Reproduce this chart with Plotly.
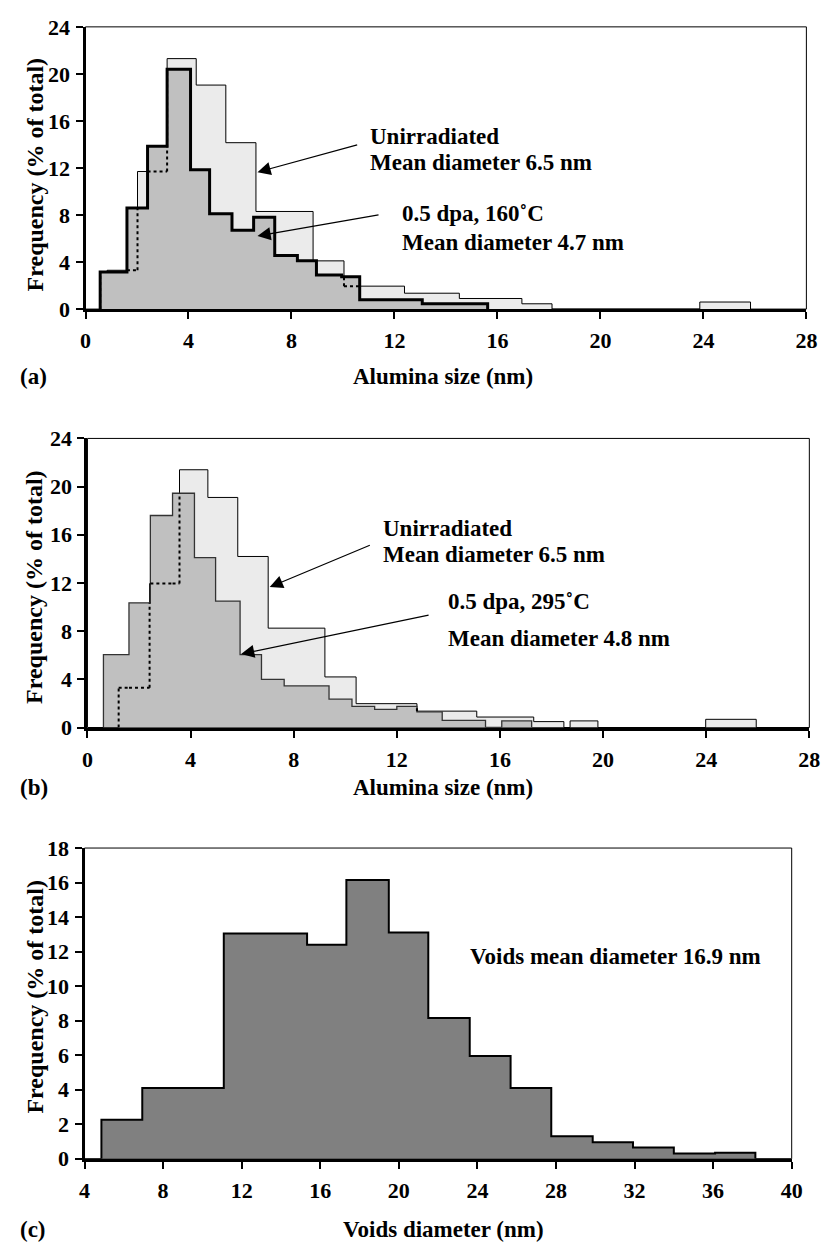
import plotly.graph_objects as go

# page is rendered with the browser's default 8px body margin
OFF = 8
FW, FH = 828, 1246

# ---------------- data ----------------
# Panel (a): alumina size distributions
unirr_a_edges = [0.57, 0.84, 2.02, 3.17, 4.30, 5.45, 6.62, 8.84, 10.04, 12.39, 14.52, 16.95, 18.12, 23.86, 25.83]
unirr_a_freq = [3.15, 3.3, 11.7, 21.3, 19.05, 14.15, 8.3, 4.1, 1.95, 1.35, 0.9, 0.45, 0.0, 0.6]
irr160_edges = [0.57, 1.61, 2.41, 3.17, 4.08, 4.82, 5.69, 6.53, 7.35, 8.23, 8.97, 9.95, 10.65, 13.08, 15.62]
irr160_freq = [3.15, 8.6, 13.85, 20.4, 11.85, 8.1, 6.7, 7.8, 4.55, 4.1, 2.9, 2.75, 0.8, 0.45]

# Panel (b)
unirr_b_edges = [1.21, 2.41, 3.57, 4.67, 5.83, 7.01, 9.21, 10.42, 12.78, 15.10, 17.31, 18.48, 18.72, 19.80, 23.98, 25.94]
unirr_b_freq = [3.3, 11.95, 21.4, 19.1, 14.2, 8.25, 4.2, 1.98, 1.36, 0.87, 0.49, 0.0, 0.55, 0.0, 0.68]
irr295_edges = [0.62, 1.61, 2.44, 3.30, 4.15, 4.97, 5.92, 6.75, 7.63, 9.37, 10.26, 11.14, 12.0, 12.78, 13.76, 15.44, 16.07, 17.23]
irr295_freq = [6.05, 10.35, 17.6, 19.45, 14.1, 10.5, 6.05, 4.0, 3.45, 2.35, 1.75, 1.5, 1.75, 1.3, 0.6, 0.0, 0.55]

# Panel (c): voids
void_edges = [4.86, 6.94, 11.09, 15.33, 17.33, 19.49, 21.5, 23.61, 25.69, 27.76, 29.87, 31.92, 34.0, 36.1, 38.15]
void_freq = [2.25, 4.1, 13.05, 12.4, 16.15, 13.1, 8.15, 5.95, 4.1, 1.3, 0.95, 0.65, 0.3, 0.35]

alumina_ticks = [0, 4, 8, 12, 16, 20, 24, 28]
alumina_yticks = [0, 4, 8, 12, 16, 20, 24]
void_ticks = [4, 8, 12, 16, 20, 24, 28, 32, 36, 40]
void_yticks = [0, 2, 4, 6, 8, 10, 12, 14, 16, 18]

FONT = "Liberation Serif"
BLACK = "#000000"
LIGHT = "#ebebeb"
MID = "#c0c0c0"
DARK = "#808080"


def px_x(px):
    return (px - OFF) / FW


def px_y(py):
    return 1 - (py - OFF) / FH


def step_xy(edges, freq):
    xs = [edges[0]] + list(edges)
    ys = [0] + list(freq) + [0]
    return xs, ys


def step_val(edges, freq, x):
    for i in range(len(freq)):
        if edges[i] < x < edges[i + 1]:
            return freq[i]
    return 0.0


def hidden_outline(ue, uf, de, df):
    """Parts of the histogram outline (ue, uf) that lie under the histogram (de, df)."""
    xs, ys = [], []
    bps = sorted(set(ue) | set(de))
    for i in range(len(uf)):
        a, b, h = ue[i], ue[i + 1], uf[i]
        pts = [a] + [p for p in bps if a < p < b] + [b]
        for p, q in zip(pts[:-1], pts[1:]):
            if step_val(de, df, (p + q) / 2) > h + 1e-9:
                xs += [p, q, None]
                ys += [h, h, None]
    ext = [0.0] + list(uf) + [0.0]
    for i, e in enumerate(ue):
        lo, hi = sorted((ext[i], ext[i + 1]))
        cover = max(step_val(de, df, e - 1e-6), step_val(de, df, e + 1e-6))
        top = min(hi, cover)
        if top > lo + 1e-9:
            xs += [e, e, None]
            ys += [lo, top, None]
    return xs, ys


fig = go.Figure()


def add_hist(edges, freq, xa, ya, fill, lw, lc):
    xs, ys = step_xy(edges, freq)
    fig.add_trace(go.Scatter(
        x=xs, y=ys, mode="lines", line=dict(shape="hv", width=lw, color=lc),
        fill="tozeroy", fillcolor=fill,
        xaxis=xa, yaxis=ya, showlegend=False, hoverinfo="skip"))


def add_hidden(ue, uf, de, df, xa, ya):
    xs, ys = hidden_outline(ue, uf, de, df)
    fig.add_trace(go.Scatter(
        x=xs, y=ys, mode="lines", line=dict(width=2, color=BLACK, dash="dot"),
        xaxis=xa, yaxis=ya, showlegend=False, hoverinfo="skip", connectgaps=False))


# panel a
add_hist(unirr_a_edges, unirr_a_freq, "x", "y", LIGHT, 1, BLACK)
add_hist(irr160_edges, irr160_freq, "x", "y", MID, 3, BLACK)
add_hidden(unirr_a_edges, unirr_a_freq, irr160_edges, irr160_freq, "x", "y")
# panel b
add_hist(unirr_b_edges, unirr_b_freq, "x2", "y2", LIGHT, 1, BLACK)
add_hist(irr295_edges, irr295_freq, "x2", "y2", MID, 1.3, "#333333")
add_hidden(unirr_b_edges, unirr_b_freq, irr295_edges, irr295_freq, "x2", "y2")
# panel c
add_hist(void_edges, void_freq, "x3", "y3", DARK, 2, BLACK)

tickfont = dict(family=FONT, size=22, color=BLACK, weight="bold")
axcommon = dict(showgrid=False, zeroline=False, showline=True, linewidth=3, linecolor=BLACK,
                ticks="outside", ticklen=7, tickwidth=2, tickcolor=BLACK, tickfont=tickfont)

panels = [
    ("xaxis", "yaxis", 81, 817, 15, 303, [0, 28], [0, 24], alumina_ticks, alumina_yticks),
    ("xaxis2", "yaxis2", 83, 820, 435, 730, [0, 28], [0, 24], alumina_ticks, alumina_yticks),
    ("xaxis3", "yaxis3", 80, 802, 853, 1170, [4, 40], [0, 18], void_ticks, void_yticks),
]
layout = {}
shapes = []
for i, (xk, yk, x0, x1, yt, yb, xr, yr, xt, yt_) in enumerate(panels):
    suffix = "" if i == 0 else str(i + 1)
    layout[xk] = dict(axcommon, domain=[px_x(x0), px_x(x1)], range=xr, tickvals=xt,
                      anchor="y" + suffix, ticklabelstandoff=3)
    layout[yk] = dict(axcommon, domain=[px_y(yb), px_y(yt)], range=yr, tickvals=yt_,
                      anchor="x" + suffix, ticklabelstandoff=1)
    shapes.append(dict(type="rect", xref="paper", yref="paper",
                       x0=px_x(x0), x1=px_x(x1), y0=px_y(yb), y1=px_y(yt),
                       line=dict(color=BLACK, width=1), layer="below"))

ann = []


def text(xref, yref, x, y, s, xanchor="left", angle=0, size=23):
    ann.append(dict(xref=xref, yref=yref, x=x, y=y, text=s, showarrow=False,
                    xanchor=xanchor, yanchor="middle", textangle=angle,
                    font=dict(family=FONT, size=size, color=BLACK, weight="bold")))


def arrow(xa, ya, tx, ty, hx, hy):
    ann.append(dict(xref=xa, yref=ya, x=hx, y=hy, ax=tx, ay=ty, axref=xa, ayref=ya,
                    text="", showarrow=True, arrowhead=2, arrowsize=2.2, arrowwidth=1.2,
                    arrowcolor=BLACK, standoff=0))


for (ycen, title, ylab_c, xt_txt) in [(166, "Frequency (% of total)", 372, "Alumina size (nm)"),
                                     (587, "Frequency (% of total)", 791, "Alumina size (nm)"),
                                     (1005, "Frequency (% of total)", 1242, "Voids diameter (nm)")]:
    text("paper", "paper", px_x(29), px_y(ycen), title, xanchor="center", angle=-90, size=24)
    text("paper", "paper", px_x(446), px_y(ylab_c), xt_txt, xanchor="center", size=23)
for lab, py in [("(a)", 372), ("(b)", 791), ("(c)", 1242)]:
    text("paper", "paper", px_x(12), px_y(py), lab, size=23)

# panel a annotations
text("x", "y", 10.99, 14.67, "Unirradiated")
text("x", "y", 10.99, 12.5, "Mean diameter 6.5 nm")
text("x", "y", 12.2, 8.17, "0.5 dpa, 160˚C")
text("x", "y", 12.2, 5.67, "Mean diameter 4.7 nm")
arrow("x", "y", 10.61, 14.0, 6.68, 11.64)
arrow("x", "y", 11.44, 8.03, 6.68, 6.22)

# panel b annotations
text("x2", "y2", 11.38, 16.5, "Unirradiated")
text("x2", "y2", 11.38, 14.4, "Mean diameter 6.5 nm")
text("x2", "y2", 13.92, 10.44, "0.5 dpa, 295˚C")
text("x2", "y2", 13.92, 7.38, "Mean diameter 4.8 nm")
arrow("x2", "y2", 11.01, 15.19, 7.07, 11.66)
arrow("x2", "y2", 13.29, 9.36, 5.96, 6.1)

# panel c annotation
text("x3", "y3", 23.53, 11.74, "Voids mean diameter 16.9 nm")

fig.update_layout(width=FW, height=FH, margin=dict(l=0, r=0, t=0, b=0),
                  plot_bgcolor="white", paper_bgcolor="white",
                  annotations=ann, shapes=shapes, **layout)

fig.write_html("out.html")
